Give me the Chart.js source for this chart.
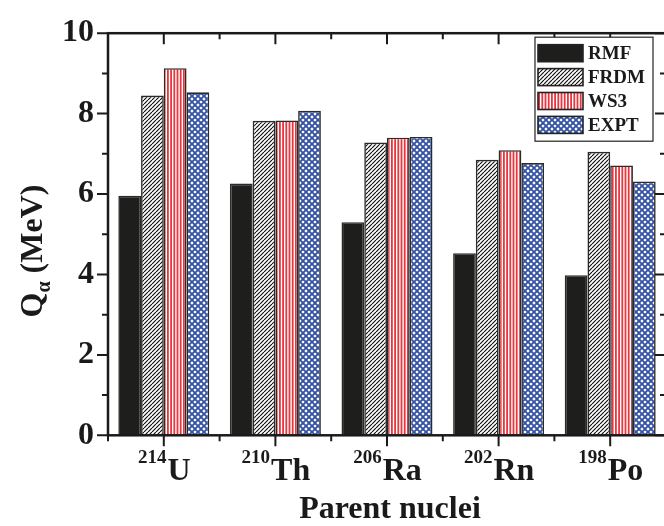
<!DOCTYPE html>
<html lang="en">
<head>
  <meta charset="UTF-8">
  <meta name="viewport" content="width=device-width, initial-scale=1.0">
  <title>Q-alpha comparison</title>
  <script src="https://cdn.jsdelivr.net/npm/chart.js"></script>
  <style>
    html, body {
      margin: 0;
      padding: 0;
      background: #fff;
      overflow: hidden;
    }
    canvas {
      display: block;
    }
  </style>
</head>
<body>
  <canvas id="qaChart" width="668" height="526"></canvas>
  <script>
    const nuclei = ['U', 'Th', 'Ra', 'Rn', 'Po'];
    const massNumbers = ['214', '210', '206', '202', '198'];
    const rmf  = [5.96, 6.26, 5.30, 4.53, 3.98];
    const frdm = [8.45, 7.82, 7.28, 6.85, 7.05];
    const ws3  = [9.13, 7.83, 7.40, 7.09, 6.71];
    const expt = [8.53, 8.07, 7.42, 6.77, 6.31];
    const yMin = 0, yMax = 10, yStep = 2;

    const SERIF = '"Liberation Serif", "Times New Roman", serif';
    const INK = '#1a1a1a';

    const canvas = document.getElementById('qaChart');
    const ctx = canvas.getContext('2d');

    // small tiles used as bar fills
    function makePattern(w, h, paint) {
      const tile = document.createElement('canvas');
      tile.width = w;
      tile.height = h;
      const g = tile.getContext('2d');
      g.fillStyle = '#fff';
      g.fillRect(0, 0, w, h);
      paint(g, w, h);
      return ctx.createPattern(tile, 'repeat');
    }

    const hatch = makePattern(4, 4, (g, w, h) => {
      g.strokeStyle = '#111';
      g.lineWidth = 1.2;
      g.beginPath();
      for (const dx of [-w, 0, w]) {
        g.moveTo(dx, h);
        g.lineTo(dx + w, 0);
      }
      g.stroke();
    });

    const stripes = makePattern(16, 4, (g, w, h) => {
      g.fillStyle = '#e8363e';
      for (let i = 0; i < 5; i++) g.fillRect(i * 3.2 + 0.6, 0, 1.8, h);
    });

    const lattice = makePattern(6, 6, (g, w, h) => {
      g.strokeStyle = '#3553a5';
      g.lineWidth = 1.9;
      g.beginPath();
      for (const dx of [-w, 0, w]) {
        g.moveTo(dx, 0);
        g.lineTo(dx + w, h);
        g.moveTo(dx, h);
        g.lineTo(dx + w, 0);
      }
      g.stroke();
    });

    // box frame with ticks on all four sides
    const frame = {
      id: 'frame',
      afterDatasetsDraw(chart) {
        const { ctx, chartArea: a, scales: { x, y } } = chart;
        ctx.save();
        ctx.strokeStyle = INK;
        ctx.lineWidth = 2.5;
        ctx.strokeRect(a.left, a.top, a.right - a.left, a.bottom - a.top);

        ctx.lineWidth = 2;
        ctx.beginPath();
        for (let v = yMin; v <= yMax; v++) {
          const py = y.getPixelForValue(v);
          const len = v % yStep === 0 ? 11 : 6;
          ctx.moveTo(a.left - len, py);
          ctx.lineTo(a.left, py);
          ctx.moveTo(a.right - len, py);
          ctx.lineTo(a.right, py);
        }
        const half = (x.getPixelForValue(1) - x.getPixelForValue(0)) / 2;
        for (let i = 0; i < nuclei.length; i++) {
          const px = x.getPixelForValue(i);
          ctx.moveTo(px, a.bottom);
          ctx.lineTo(px, a.bottom + 11);
          ctx.moveTo(px, a.top);
          ctx.lineTo(px, a.top + 11);
          for (const bx of [px - half, px + half]) {
            ctx.moveTo(bx, a.bottom);
            ctx.lineTo(bx, a.bottom + 6);
            ctx.moveTo(bx, a.top);
            ctx.lineTo(bx, a.top + 6);
          }
        }
        ctx.stroke();
        ctx.restore();
      },
      afterDraw(chart) {
        const { ctx, chartArea: a, scales: { x } } = chart;
        ctx.save();
        ctx.fillStyle = INK;
        ctx.textBaseline = 'alphabetic';
        ctx.textAlign = 'left';

        // nuclide labels with mass number as superscript
        const supFont = 'bold 19px ' + SERIF;
        const mainFont = 'bold 32px ' + SERIF;
        nuclei.forEach((el, i) => {
          const px = x.getPixelForValue(i);
          ctx.font = supFont;
          const ws = ctx.measureText(massNumbers[i]).width;
          ctx.font = mainFont;
          const wm = ctx.measureText(el).width;
          const x0 = px - (ws + wm) / 2;
          ctx.font = supFont;
          ctx.fillText(massNumbers[i], x0, a.bottom + 28);
          ctx.font = mainFont;
          ctx.fillText(el, x0 + ws + 1, a.bottom + 45);
        });

        // x axis title
        ctx.font = 'bold 32px ' + SERIF;
        ctx.textAlign = 'center';
        ctx.fillText('Parent nuclei', (a.left + a.right) / 2 + 3, 518);

        // y axis title, rotated, with alpha subscript
        ctx.translate(42, 251);
        ctx.rotate(-Math.PI / 2);
        const q = 'Q', unit = ' (MeV)', sub = '\u03b1';
        ctx.font = 'bold 32px ' + SERIF;
        const wq = ctx.measureText(q).width;
        const wu = ctx.measureText(unit).width;
        ctx.font = 'bold 20px ' + SERIF;
        const wa = ctx.measureText(sub).width;
        const start = -(wq + wa + wu) / 2;
        ctx.textAlign = 'left';
        ctx.font = 'bold 32px ' + SERIF;
        ctx.fillText(q, start, 0);
        ctx.fillText(unit, start + wq + wa, 0);
        ctx.font = 'bold 20px ' + SERIF;
        ctx.fillText(sub, start + wq, 8);
        ctx.restore();

        drawLegend(chart);
      }
    };

    function drawLegend(chart) {
      const { ctx, chartArea: a } = chart;
      const sets = chart.data.datasets;
      const boxW = 118, boxH = 104, rowH = 23.9;
      const left = a.right - 131, top = a.top + 4;
      ctx.save();
      ctx.fillStyle = '#fff';
      ctx.fillRect(left, top, boxW, boxH);
      ctx.strokeStyle = '#222';
      ctx.lineWidth = 1.2;
      ctx.strokeRect(left, top, boxW, boxH);
      ctx.font = 'bold 19px ' + SERIF;
      ctx.textBaseline = 'middle';
      ctx.textAlign = 'left';
      sets.forEach((ds, i) => {
        const cy = top + 16 + i * rowH;
        ctx.fillStyle = ds.backgroundColor;
        ctx.fillRect(left + 3, cy - 8.5, 45, 17);
        ctx.lineWidth = 1.6;
        ctx.strokeStyle = '#222';
        ctx.strokeRect(left + 3, cy - 8.5, 45, 17);
        ctx.fillStyle = INK;
        ctx.fillText(ds.label, left + 53, cy + 1);
      });
      ctx.restore();
    }

    const barStyle = {
      borderColor: '#2a2a2a',
      borderWidth: 1.6,
      barPercentage: 1.0,
      categoryPercentage: 0.815
    };

    new Chart(ctx, {
      type: 'bar',
      data: {
        labels: nuclei,
        datasets: [
          { label: 'RMF',  data: rmf,  backgroundColor: '#1e1e1c', ...barStyle },
          { label: 'FRDM', data: frdm, backgroundColor: hatch, ...barStyle },
          { label: 'WS3',  data: ws3,  backgroundColor: stripes, ...barStyle },
          { label: 'EXPT', data: expt, backgroundColor: lattice, ...barStyle }
        ]
      },
      options: {
        responsive: false,
        animation: false,
        layout: { padding: { top: 20, right: 2, left: 0, bottom: 0 } },
        plugins: {
          legend: { display: false },
          tooltip: { enabled: false }
        },
        scales: {
          x: {
            grid: { display: false, drawTicks: false },
            border: { display: false },
            ticks: { display: false },
            afterFit(scale) { scale.height = 90.7; }
          },
          y: {
            min: yMin,
            max: yMax,
            grid: { display: false, drawTicks: false },
            border: { display: false },
            ticks: {
              stepSize: yStep,
              padding: 14,
              color: INK,
              font: { family: SERIF, size: 32, weight: 'bold' }
            },
            afterFit(scale) { scale.width = 108; }
          }
        }
      },
      plugins: [frame]
    });
  </script>
</body>
</html>
